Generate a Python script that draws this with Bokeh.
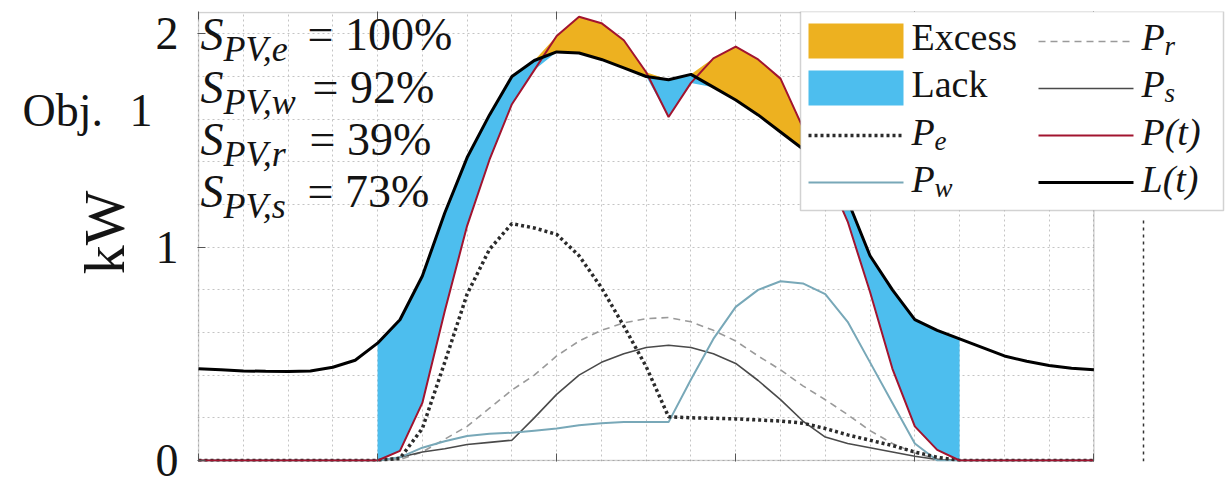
import math
import numpy as np
from bokeh.plotting import figure
from bokeh.layouts import row
from bokeh.models import (FixedTicker, Label, Arrow, BoxAnnotation, Range1d, LinearAxis,
                          CustomJSTickFormatter)
from bokeh.embed import file_html
from bokeh.resources import INLINE

# ---------------- data ----------------
hours = [0.0, 0.5, 1.0, 1.5, 2.0, 2.5, 3.0, 3.5, 4.0, 4.5,
         5.0, 5.5, 6.0, 6.5, 7.0, 7.5, 8.0, 8.5, 9.0, 9.5,
         10.0, 10.5, 11.0, 11.5, 12.0, 12.5, 13.0, 13.5, 14.0, 14.5,
         15.0, 15.5, 16.0, 16.5, 17.0, 17.5, 18.0, 18.5, 19.0, 19.5, 20.0]

load = [0.430, 0.425, 0.420, 0.418, 0.417, 0.420, 0.437, 0.470, 0.550, 0.660,
        0.865, 1.160, 1.420, 1.620, 1.800, 1.875, 1.915, 1.910, 1.880, 1.840,
        1.800, 1.785, 1.810, 1.750, 1.690, 1.620, 1.540, 1.460, 1.360, 1.220,
        0.960, 0.800, 0.660, 0.610, 0.570, 0.530, 0.490, 0.465, 0.445, 0.432, 0.425]

pv_total = [0, 0, 0, 0, 0, 0, 0, 0, 0, 0.045,
            0.27, 0.70, 1.10, 1.41, 1.67, 1.83, 1.99, 2.08, 2.05, 1.97,
            1.82, 1.61, 1.77, 1.885, 1.94, 1.88, 1.79, 1.56, 1.36, 1.12,
            0.79, 0.43, 0.16, 0.05, 0, 0, 0, 0, 0, 0, 0]

p_e = [0, 0, 0, 0, 0, 0, 0, 0, 0, 0.01,
       0.15, 0.46, 0.78, 0.99, 1.11, 1.09, 1.06, 0.96, 0.81, 0.63,
       0.44, 0.205, 0.20, 0.198, 0.195, 0.19, 0.185, 0.175, 0.15, 0.12,
       0.095, 0.07, 0.04, 0.015, 0, 0, 0, 0, 0, 0, 0]

p_w = [0, 0, 0, 0, 0, 0, 0, 0, 0, 0.015,
       0.06, 0.09, 0.115, 0.125, 0.13, 0.14, 0.15, 0.165, 0.175, 0.18,
       0.18, 0.18, 0.38, 0.57, 0.72, 0.80, 0.84, 0.83, 0.78, 0.65,
       0.46, 0.27, 0.08, 0, 0, 0, 0, 0, 0, 0, 0]

p_r = [0, 0, 0, 0, 0, 0, 0, 0, 0, 0.005,
       0.04, 0.10, 0.16, 0.245, 0.33, 0.40, 0.49, 0.56, 0.61, 0.645,
       0.665, 0.67, 0.65, 0.61, 0.56, 0.49, 0.425, 0.35, 0.285, 0.215,
       0.14, 0.08, 0.035, 0.008, 0, 0, 0, 0, 0, 0, 0]

p_s = [0, 0, 0, 0, 0, 0, 0, 0, 0, 0.015,
       0.04, 0.055, 0.075, 0.085, 0.095, 0.20, 0.31, 0.40, 0.46, 0.50,
       0.53, 0.54, 0.53, 0.50, 0.455, 0.375, 0.285, 0.185, 0.11, 0.08,
       0.06, 0.04, 0.02, 0.005, 0, 0, 0, 0, 0, 0, 0]

y_major_ticks = [0, 1, 2]
x_major_ticks = [0, 4, 8, 12, 16, 20]
x_grid_ticks = list(range(0, 21))
y_grid_ticks = [0, 0.2, 0.4, 0.6, 0.8, 1.0, 1.2, 1.4, 1.6, 1.8, 2.0]
y_top = 2.1

share_names = ["e", "w", "r", "s"]
share_values = [100, 92, 39, 73]

# ---------------- layout constants (page pixels) ----------------
W, H = 1230, 488
LEFT_W = 152                         # width of the left text strip
BOX_L, BOX_R, BOX_T, BOX_B = 195, 1093, 12, 460   # plot box
FL, FR, FT, FB = BOX_L - 1, W, BOX_T - 1, BOX_B + 1  # frame of main figure
DY = 3                               # text "middle" correction

EXCESS = "#EDB120"
LACK = "#4DBEEE"
FONT = "Liberation Serif"
TXT = "#141414"
BORDER = "#6b6b6b"
TICK = "#555555"

STYLE_R = dict(line_color="#9a9a9a", line_width=1.6, line_dash="7 5")
STYLE_S = dict(line_color="#4a4a4a", line_width=1.6)
STYLE_W = dict(line_color="#78a8b8", line_width=2)
STYLE_E = dict(line_color="#2b2b2b", line_width=3.5, line_dash="3 3")
STYLE_P = dict(line_color="#a2142f", line_width=2)
STYLE_L = dict(line_color="black", line_width=3)

x0, x1 = hours[0], hours[-1]
sx = (BOX_R - BOX_L) / (x1 - x0)
sy = (BOX_B - BOX_T) / y_top
x_range = Range1d(x0 - (BOX_L - FL) / sx, x1 + (FR - BOX_R) / sx)
y_range = Range1d(-(FB - BOX_B) / sy, y_top + (BOX_T - FT) / sy)

p = figure(width=W - LEFT_W, height=H, x_range=x_range, y_range=y_range,
           output_backend="svg", toolbar_location=None,
           min_border_left=FL - LEFT_W, min_border_right=0,
           min_border_top=FT, min_border_bottom=H - FB)
p.background_fill_color = "white"
p.border_fill_color = "white"
p.outline_line_color = None

# grids
p.xgrid.ticker = FixedTicker(ticks=x_grid_ticks)
p.ygrid.ticker = FixedTicker(ticks=y_grid_ticks)
p.grid.grid_line_color = "#c4c4c4"
p.grid.grid_line_dash = "2 3"
p.grid.grid_line_width = 1


def tick_only(axis, ticks):
    axis.ticker = FixedTicker(ticks=ticks)
    axis.formatter = CustomJSTickFormatter(code="return ''")
    axis.major_tick_in = 8
    axis.major_tick_out = 0
    axis.minor_tick_line_color = None
    axis.axis_line_color = None
    axis.major_tick_line_color = TICK
    axis.major_label_text_font_size = "1px"
    axis.major_label_standoff = 0


# bottom and top axes: inward ticks only
tick_only(p.below[0], x_major_ticks)
top_axis = LinearAxis()
tick_only(top_axis, x_major_ticks)
p.add_layout(top_axis, "above")

# left axis
ya = p.left[0]
ya.ticker = FixedTicker(ticks=y_major_ticks)
ya.major_tick_in = 8
ya.major_tick_out = 0
ya.minor_tick_line_color = None
ya.axis_line_color = None
ya.major_tick_line_color = TICK
ya.major_label_text_font = FONT
ya.major_label_text_font_size = "46px"
ya.major_label_text_color = TXT
ya.major_label_standoff = 19

# hide grid beyond the plot box, then draw the box
p.add_layout(BoxAnnotation(left=x1, fill_color="white", fill_alpha=1, line_color=None,
                           level="underlay"))
p.add_layout(BoxAnnotation(left=x0, right=x1, bottom=0, top=y_top, fill_color=None,
                           line_color=BORDER, line_width=1.5, level="underlay"))

# ---------------- fills between load and PV ----------------
xa_ = np.array(hours)
L = np.array(load)
P = np.array(pv_total)
nz = np.nonzero(P > 0)[0]
i0, i1 = nz[0] - 1, nz[-1] + 2
p.varea(x=xa_[i0:i1], y1=np.minimum(L, P)[i0:i1], y2=L[i0:i1], fill_color=LACK)
p.varea(x=xa_[i0:i1], y1=L[i0:i1], y2=np.maximum(L, P)[i0:i1], fill_color=EXCESS)

# ---------------- lines ----------------
p.line(hours, p_r, **STYLE_R)
p.line(hours, p_s, **STYLE_S)
p.line(hours, p_w, **STYLE_W)
p.line(hours, p_e, **STYLE_E)
p.line(hours, pv_total, **STYLE_P)
p.line(hours, load, **STYLE_L)


# ---------------- helpers (page pixel -> frame screen units) ----------------
def sbox(fig, l, r, t, b, **kw):
    fig.add_layout(BoxAnnotation(left=l - FL, right=r - FL, top=FB - t, bottom=FB - b,
                                 left_units="screen", right_units="screen",
                                 top_units="screen", bottom_units="screen",
                                 level="annotation", **kw))


def sline(fig, xs, xe, y, **kw):
    fig.add_layout(Arrow(end=None, x_start=xs - FL, y_start=FB - y, x_end=xe - FL,
                         y_end=FB - y, start_units="screen", end_units="screen",
                         level="annotation", **kw))


def txt(fig, fl, px, py, s, size, style="normal", angle=0.0, align="left"):
    fig.add_layout(Label(x=px - fl, y=FB - py + DY, x_units="screen", y_units="screen",
                         text=s, text_font=FONT, text_font_size=f"{size}px",
                         text_font_style=style, text_color=TXT, angle=angle,
                         text_baseline="middle", text_align=align, level="overlay"))


def ptxt(px, py, s, size, style="normal"):
    txt(p, FL, px, py, s, size, style)


# ---------------- legend (drawn manually) ----------------
sbox(p, 797, 1220, 11, 210, fill_color="white", fill_alpha=1, line_color=BORDER, line_width=1.5)
sbox(p, 805, 900, 23, 58, fill_color=EXCESS, fill_alpha=1, line_color=None)
sbox(p, 805, 900, 70, 105, fill_color=LACK, fill_alpha=1, line_color=None)
sline(p, 805, 900, 135, **STYLE_E)
sline(p, 805, 900, 182, **STYLE_W)
sline(p, 1035, 1130, 41, **STYLE_R)
sline(p, 1035, 1130, 88, **STYLE_S)
sline(p, 1035, 1130, 135, **STYLE_P)
sline(p, 1035, 1130, 182, **STYLE_L)

ptxt(908, 39, "Excess", 38)
ptxt(908, 86, "Lack", 38)
ptxt(908, 134, "P", 38, "italic")
ptxt(931, 143, "e", 27, "italic")
ptxt(908, 181, "P", 38, "italic")
ptxt(931, 190, "w", 27, "italic")
ptxt(1138, 39, "P", 38, "italic")
ptxt(1161, 48, "r", 27, "italic")
ptxt(1138, 86, "P", 38, "italic")
ptxt(1161, 95, "s", 27, "italic")
ptxt(1138, 134, "P(t)", 38, "italic")
ptxt(1138, 181, "L(t)", 38, "italic")

# S_PV annotations
centres = [37, 90, 142, 194]
eq_x = [304, 309, 306, 304]
for name, val, cy, ex in zip(share_names, share_values, centres, eq_x):
    ptxt(197, cy, "S", 46, "italic")
    ptxt(220, cy + 14, f"PV,{name}", 36, "italic")
    ptxt(ex, cy, f"= {val}%", 46)

# dashed separator on the right (edge of the neighbouring panel)
p.add_layout(Arrow(end=None, x_start=1140 - FL, y_start=FB - 220,
                   x_end=1140 - FL, y_end=0,
                   start_units="screen", end_units="screen",
                   line_color="#333333", line_width=1.5, line_dash="3 4"))

# ---------------- left strip: row label and unit ----------------
lf = figure(width=LEFT_W, height=H, x_range=Range1d(0, 1), y_range=Range1d(0, 1),
            output_backend="svg", toolbar_location=None,
            x_axis_location=None, y_axis_location=None,
            min_border_left=0, min_border_right=0,
            min_border_top=FT, min_border_bottom=H - FB)
lf.outline_line_color = None
lf.grid.visible = False
lf.background_fill_color = "white"
lf.border_fill_color = "white"
txt(lf, 0, 22, 113, "Obj.", 46)
txt(lf, 0, 129, 113, "1", 46)
txt(lf, 0, 104, 235, "kW", 58, angle=math.pi / 2, align="center")

layout = row(lf, p)
open("out.html", "w").write(file_html(layout, INLINE))
